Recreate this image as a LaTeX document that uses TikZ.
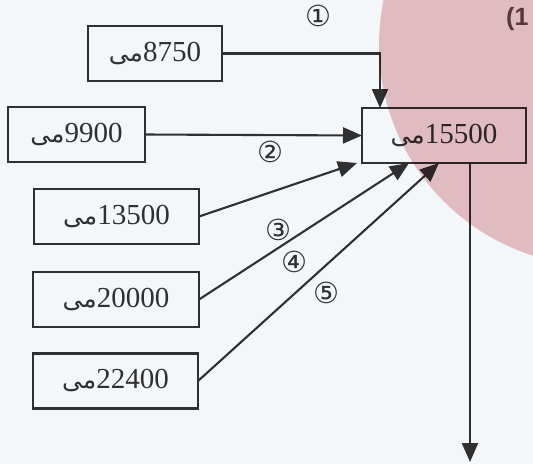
\documentclass[tikz,border=0pt]{standalone}
\usepackage{fontspec}
\setmainfont{Liberation Serif}
\newfontfamily\arabicfont[Script=Arabic]{DejaVu Sans}
\newfontfamily\symfont{DejaVu Sans}
\newfontfamily\labsans{Liberation Sans}
\TeXXeTstate=1
\usetikzlibrary{arrows.meta,calc}
\definecolor{bgc}{HTML}{F4F7F9}
\definecolor{pinkc}{HTML}{EBC3C7}
\definecolor{inkc}{HTML}{303030}
\definecolor{headc}{HTML}{553838}
\newcommand{\mival}[1]{{\arabicfont\fontsize{25}{28}\selectfont\beginR مى\endR}{\fontsize{29}{31}\selectfont #1}}
\tikzset{
  valbox/.style={draw=inkc, line width=2.2pt, minimum height=55pt, inner sep=0pt, outer sep=0pt, text=inkc},
  conn/.style={draw=inkc, line width=2.1pt, -{Triangle[length=19pt,width=16pt]}},
  numlab/.style={text=inkc, font=\symfont\fontsize{29}{31}\selectfont, inner sep=0pt}
}
\begin{document}
\begin{tikzpicture}[x=1pt,y=-1pt]
\useasboundingbox (0,0) rectangle (533,464);
\fill[bgc] (0,0) rectangle (533,464);
\node[valbox, minimum width=134pt] (a) at (155,53.5) {\mival{8750}};
\node[valbox, minimum width=137pt] (b) at (76.5,134.5) {\mival{9900}};
\node[valbox, minimum width=164pt] (t) at (444,135.5) {\mival{15500}};
\node[valbox, minimum width=165pt] (c) at (116.5,216.5) {\mival{13500}};
\node[valbox, minimum width=166pt] (d) at (116,299.5) {\mival{20000}};
\node[valbox, minimum width=165pt] (e) at (115.5,381) {\mival{22400}};
\coordinate (out) at (470,462);
\draw[conn] (a.east) -| ([xshift=18pt]t.north west);
\draw[conn] (b.east) -- (t.west);
\draw[conn] (c.east) -- ([xshift=-5pt]t.south west);
\draw[conn] (d.east) -- ([xshift=47pt]t.south west);
\draw[conn] (e.east) -- ([xshift=77pt]t.south west);
\draw[conn] ([xshift=108pt]t.south west) -- (out);
\node[numlab] (l1) at (318,16) {①};
\node[numlab] (l2) at (270,152) {②};
\node[numlab] (l3) at (278,230) {③};
\node[numlab] (l4) at (294,262) {④};
\node[numlab] (l5) at (326,293) {⑤};
\fill[pinkc, blend mode=multiply] (600,45) circle (221pt);
\node[anchor=west, text=headc, font=\labsans\bfseries\fontsize{25}{27}\selectfont, inner sep=0pt] (h) at (506,19) {(1};
\end{tikzpicture}
\end{document}
